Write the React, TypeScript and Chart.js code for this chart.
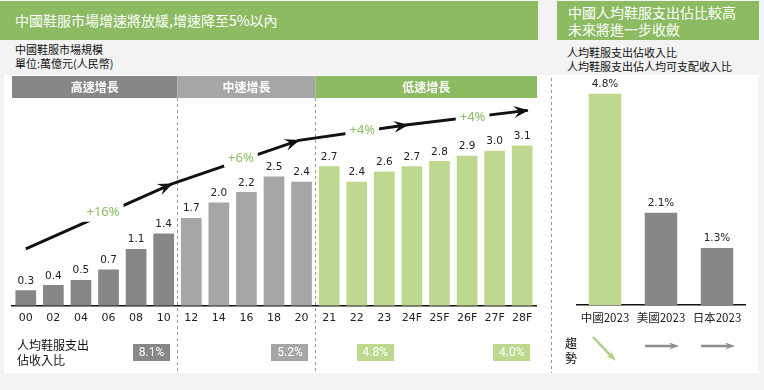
import React, { useEffect, useRef } from 'react';
import { Chart, registerables } from 'chart.js';

Chart.register(...registerables);

// ---------- data ----------
const years = ['00', '02', '04', '06', '08', '10', '12', '14', '16', '18', '20', '21', '22', '23', '24F', '25F', '26F', '27F', '28F'];
const marketSize = [0.3, 0.4, 0.5, 0.7, 1.1, 1.4, 1.7, 2.0, 2.2, 2.5, 2.4, 2.7, 2.4, 2.6, 2.7, 2.8, 2.9, 3.0, 3.1];
const phaseNames = ['高速增長', '中速增長', '低速增長'];
const phaseLastIndex = [5, 10, 18];
const growthRates = ['+16%', '+6%', '+4%', '+4%'];
const spendShareLabels = ['8.1%', '5.2%', '4.8%', '4.0%'];
const countries = ['中國2023', '美國2023', '日本2023'];
const spendShare = [4.8, 2.1, 1.3];
const trends = ['down', 'flat', 'flat'];

// ---------- styles ----------
const GREEN = '#8cbb62';
const DARK = '#878787';
const MID = '#a6a6a6';
const LIGHT_GREEN = '#bed98f';
const TEXT_GREEN = '#8cc063';
const BG = '#f2f3f2';
const CJK = '"Noto Sans CJK TC", "Noto Sans CJK SC", sans-serif';
const NUM = '"DejaVu Sans", sans-serif';

const phaseOf = (i: number) => phaseLastIndex.findIndex((e) => i <= e);
const barColors = marketSize.map((_, i) => [DARK, MID, LIGHT_GREEN][phaseOf(i)]);
const headerColors = [DARK, MID, GREEN];

// annotation anchors in data units (category index, value)
const trendPath = [[0, 1.1], [5.3, 2.36], [9.9, 3.2], [13.85, 3.5], [18.2, 3.78]];
const growthAt = [[2.8, 1.8], [7.8, 2.86], [12.2, 3.4], [16.2, 3.64]];
const shareBoxAt = [4.56, 9.58, 12.67, 17.62];
const shareBoxColors = [DARK, MID, LIGHT_GREEN, LIGHT_GREEN];

function arrowHead(ctx: CanvasRenderingContext2D, x0: number, y0: number, x1: number, y1: number, len: number, wid: number) {
  const ang = Math.atan2(y1 - y0, x1 - x0);
  ctx.save();
  ctx.translate(x1, y1);
  ctx.rotate(ang);
  ctx.beginPath();
  ctx.moveTo(1, 0);
  ctx.lineTo(-len, -wid);
  ctx.lineTo(-len * 0.6, 0);
  ctx.lineTo(-len, wid);
  ctx.closePath();
  ctx.fill();
  ctx.restore();
}

const leftDecor = {
  id: 'leftDecor',
  afterDatasetsDraw(chart: any) {
    const { ctx, chartArea, scales } = chart;
    const x = scales.x;
    const y = scales.y;
    const meta = chart.getDatasetMeta(0);
    ctx.save();

    // value labels
    ctx.font = '10.5px ' + NUM;
    ctx.fillStyle = '#222';
    ctx.textAlign = 'center';
    ctx.textBaseline = 'bottom';
    meta.data.forEach((bar: any, i: number) => ctx.fillText(marketSize[i].toFixed(1), bar.x, bar.y - 4));

    // phase boundaries
    const bounds = phaseLastIndex.map((e) =>
      e < years.length - 1 ? (x.getPixelForValue(e) + x.getPixelForValue(e + 1)) / 2 : chartArea.right + 1
    );
    let start = chartArea.left;
    phaseNames.forEach((name, i) => {
      const end = bounds[i];
      ctx.fillStyle = headerColors[i];
      ctx.fillRect(start, 36, end - start, 22);
      ctx.fillStyle = '#fff';
      ctx.font = 'bold 12px ' + CJK;
      ctx.textBaseline = 'middle';
      ctx.textAlign = 'center';
      ctx.fillText(name, (start + end) / 2, 47.5);
      start = end;
    });
    ctx.strokeStyle = '#9a9a9a';
    ctx.lineWidth = 1;
    ctx.setLineDash([3, 3]);
    bounds.slice(0, -1).forEach((b) => {
      const bx = Math.round(b) + 0.5;
      ctx.beginPath();
      ctx.moveTo(bx, 58);
      ctx.lineTo(bx, 333);
      ctx.stroke();
    });
    ctx.setLineDash([]);

    // trend arrows
    const pts = trendPath.map(([i, v]) => [x.getPixelForValue(i), y.getPixelForValue(v)]);
    ctx.strokeStyle = '#111';
    ctx.fillStyle = '#111';
    ctx.lineWidth = 3;
    ctx.beginPath();
    ctx.moveTo(pts[0][0], pts[0][1]);
    for (let k = 1; k < pts.length; k++) ctx.lineTo(pts[k][0], pts[k][1]);
    ctx.stroke();
    for (let k = 1; k < pts.length; k++) arrowHead(ctx, pts[k - 1][0], pts[k - 1][1], pts[k][0], pts[k][1], 14, 6);

    // growth labels (break the line)
    ctx.font = '13px "Noto Sans", sans-serif';
    ctx.textAlign = 'center';
    ctx.textBaseline = 'middle';
    growthRates.forEach((t, i) => {
      const px = x.getPixelForValue(growthAt[i][0]);
      const py = y.getPixelForValue(growthAt[i][1]);
      const w = ctx.measureText(t).width + 8;
      ctx.fillStyle = '#fff';
      ctx.fillRect(px - w / 2, py - 9, w, 18);
      ctx.fillStyle = TEXT_GREEN;
      ctx.fillText(t, px, py);
    });

    // share boxes
    ctx.font = '12px Roboto, sans-serif';
    spendShareLabels.forEach((t, i) => {
      const cx = x.getPixelForValue(shareBoxAt[i]);
      ctx.fillStyle = shareBoxColors[i];
      ctx.fillRect(Math.round(cx - 18.5), 304, 37, 17);
      ctx.fillStyle = '#fff';
      ctx.fillText(t, cx, 313);
    });
    ctx.restore();
  },
};

const rightDecor = {
  id: 'rightDecor',
  afterDatasetsDraw(chart: any) {
    const { ctx, scales } = chart;
    const x = scales.x;
    const meta = chart.getDatasetMeta(0);
    ctx.save();
    ctx.font = '10.5px ' + NUM;
    ctx.fillStyle = '#222';
    ctx.textAlign = 'center';
    ctx.textBaseline = 'bottom';
    meta.data.forEach((bar: any, i: number) => ctx.fillText(spendShare[i].toFixed(1) + '%', bar.x, bar.y - 4));

    ctx.strokeStyle = '#9a9a9a';
    ctx.lineWidth = 1;
    ctx.setLineDash([3, 3]);
    ctx.beginPath();
    ctx.moveTo(3.5, 38);
    ctx.lineTo(3.5, 333);
    ctx.stroke();
    ctx.setLineDash([]);

    trends.forEach((t, i) => {
      const c = x.getPixelForValue(i);
      let x0, y0, x1, y1, col;
      if (t === 'down') {
        x0 = c - 12; y0 = 297; x1 = c + 10; y1 = 320; col = '#add17f';
      } else {
        x0 = c - 16; y0 = 306; x1 = c + 17; y1 = 306; col = '#8c8c8c';
      }
      ctx.strokeStyle = col;
      ctx.fillStyle = col;
      ctx.lineWidth = 2.5;
      ctx.beginPath();
      ctx.moveTo(x0, y0);
      ctx.lineTo(x1 - (x1 - x0) * 0.15, y1 - (y1 - y0) * 0.15);
      ctx.stroke();
      arrowHead(ctx, x0, y0, x1, y1, 9, 3.5);
    });
    ctx.restore();
  },
};

function LeftChart() {
  const ref = useRef<HTMLCanvasElement>(null);
  useEffect(() => {
    const chart = new Chart(ref.current!, {
      type: 'bar',
      data: {
        labels: years,
        datasets: [{ data: marketSize, backgroundColor: barColors, barPercentage: 0.75, categoryPercentage: 1 }],
      },
      options: {
        responsive: false,
        animation: false,
        layout: { padding: { left: 12, right: 12, top: 59, bottom: 44 } },
        plugins: { legend: { display: false }, tooltip: { enabled: false } },
        scales: {
          x: {
            grid: { display: false, drawTicks: false },
            border: { color: '#111', width: 1.5 },
            ticks: { padding: 6, color: '#222', font: { family: 'DejaVu Sans', size: 11 } },
          },
          y: { display: false, min: 0, max: 4 },
        },
      },
      plugins: [leftDecor],
    });
    return () => chart.destroy();
  }, []);
  return <canvas ref={ref} width={548} height={335} style={{ position: 'absolute', left: 0, top: 40 }} />;
}

function RightChart() {
  const ref = useRef<HTMLCanvasElement>(null);
  useEffect(() => {
    const chart = new Chart(ref.current!, {
      type: 'bar',
      data: {
        labels: countries,
        datasets: [{ data: spendShare, backgroundColor: [LIGHT_GREEN, DARK, DARK], barPercentage: 0.58, categoryPercentage: 1 }],
      },
      options: {
        responsive: false,
        animation: false,
        layout: { padding: { left: 29, right: 15, top: 45, bottom: 44 } },
        plugins: { legend: { display: false }, tooltip: { enabled: false } },
        scales: {
          x: {
            grid: { display: false, drawTicks: false },
            border: { color: '#111', width: 1.5 },
            ticks: { padding: 6, color: '#222', font: { family: 'Noto Sans CJK TC', size: 11.5 } },
          },
          y: { display: false, min: 0, max: 5 },
        },
      },
      plugins: [rightDecor],
    });
    return () => chart.destroy();
  }, []);
  return <canvas ref={ref} width={212} height={335} style={{ position: 'absolute', left: 548, top: 40 }} />;
}

export default function App() {
  return (
    <div
      style={{
        position: 'fixed', left: 0, top: 0, width: 764, height: 390, background: BG,
        overflow: 'hidden', fontFamily: CJK, color: '#222',
      }}
    >
      <div style={{ position: 'absolute', left: 4, top: 75, width: 754, height: 298, background: '#fff' }} />
      <div
        style={{
          position: 'absolute', left: 0, top: 1, width: 538, height: 39, background: GREEN, color: '#fff',
          fontSize: 14, lineHeight: '39px', paddingLeft: 15, boxSizing: 'border-box', whiteSpace: 'nowrap',
        }}
      >
        中國鞋服市場增速將放緩,增速降至5%以內
      </div>
      <div
        style={{
          position: 'absolute', left: 557, top: 1, width: 202, height: 39, background: GREEN, color: '#fff',
          fontSize: 14, lineHeight: '16.5px', paddingLeft: 11, paddingTop: 3, boxSizing: 'border-box', whiteSpace: 'nowrap',
        }}
      >
        中國人均鞋服支出佔比較高
        <br />
        未來將進一步收斂
      </div>
      <div style={{ position: 'absolute', left: 15, top: 43, fontSize: 11, lineHeight: '13.5px', whiteSpace: 'nowrap', color: '#111' }}>
        中國鞋服市場規模
        <br />
        單位:萬億元(人民幣)
      </div>
      <div style={{ position: 'absolute', left: 567, top: 45, fontSize: 11, lineHeight: '14px', whiteSpace: 'nowrap', color: '#111' }}>
        人均鞋服支出佔收入比
        <br />
        人均鞋服支出佔人均可支配收入比
      </div>
      <LeftChart />
      <RightChart />
      <div style={{ position: 'absolute', left: 17, top: 337, fontSize: 12, lineHeight: '15px', whiteSpace: 'nowrap', color: '#111' }}>
        人均鞋服支出
        <br />
        佔收入比
      </div>
      <div style={{ position: 'absolute', left: 565, top: 335, fontSize: 12, lineHeight: '15px', color: '#111' }}>
        趨
        <br />
        勢
      </div>
    </div>
  );
}
